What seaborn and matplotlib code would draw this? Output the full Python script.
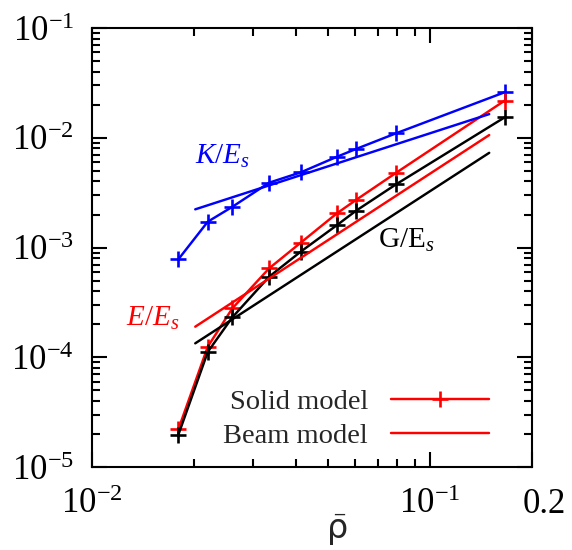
import numpy as np
import pandas as pd
import matplotlib
matplotlib.use("Agg")
import matplotlib.pyplot as plt
import seaborn as sns
from matplotlib.lines import Line2D
from matplotlib.transforms import ScaledTranslation
from matplotlib.ticker import (LogLocator, FixedLocator, FixedFormatter,
                               NullFormatter, FuncFormatter)

sns.set_theme(style="ticks")
plt.rcParams["font.family"] = ["Liberation Serif", "DejaVu Sans"]
plt.rcParams["mathtext.fontset"] = "custom"
plt.rcParams["mathtext.rm"] = "Liberation Serif"
plt.rcParams["mathtext.it"] = "Liberation Serif:italic"
plt.rcParams["mathtext.sf"] = "DejaVu Sans"

# relative density of the solid (finite element) models
rho_solid = [0.018, 0.022, 0.026, 0.0334, 0.0414, 0.053, 0.0603, 0.0793, 0.166]
K_solid = [7.8e-4, 1.72e-3, 2.35e-3, 3.9e-3, 4.84e-3, 6.72e-3, 7.9e-3, 1.1e-2, 2.6e-2]
E_solid = [2.2e-5, 1.25e-4, 2.79e-4, 6.46e-4, 1.106e-3, 2.05e-3, 2.71e-3, 4.8e-3, 2.18e-2]
G_solid = [1.96e-5, 1.12e-4, 2.31e-4, 5.42e-4, 9.16e-4, 1.6e-3, 2.16e-3, 3.77e-3, 1.535e-2]

# beam model predictions (power laws, straight in log-log)
rho_beam = [0.0202, 0.1495]
K_beam = [2.23e-3, 1.645e-2]
E_beam = [1.9e-4, 1.06e-2]
G_beam = [1.34e-4, 7.3e-3]

x_ticks = [0.01, 0.1, 0.2]
x_ticklabels = [r"$\mathregular{10^{-2}}$", r"$\mathregular{10^{-1}}$", "0.2"]

colors = {"K": "#0000ff", "E": "#ff0000", "G": "#000000"}

fig = plt.figure(figsize=(5.72, 5.50), dpi=100)
ax = fig.add_axes([0.1608, 0.1509, 0.7692, 0.798])

lw = 1.75
mk = dict(marker="+", markersize=11, markeredgewidth=1.9)
for key, ys in (("K", K_solid), ("E", E_solid), ("G", G_solid)):
    sns.lineplot(x=rho_solid, y=ys, ax=ax, color=colors[key], lw=lw,
                 markeredgecolor=colors[key], sort=False, legend=False, **mk)
for key, ys in (("K", K_beam), ("E", E_beam), ("G", G_beam)):
    sns.lineplot(x=rho_beam, y=ys, ax=ax, color=colors[key], lw=lw,
                 sort=False, legend=False)

ax.set_xscale("log")
ax.set_yscale("log")
ax.set_xlim(0.01, 0.2)
ax.set_ylim(1e-5, 1e-1)

ax.xaxis.set_major_locator(FixedLocator(x_ticks))
ax.xaxis.set_major_formatter(FixedFormatter(x_ticklabels))
ax.xaxis.set_minor_locator(FixedLocator([0.02, 0.03, 0.04, 0.05, 0.06, 0.07, 0.08, 0.09]))
ax.xaxis.set_minor_formatter(NullFormatter())
ax.yaxis.set_major_locator(LogLocator(base=10, numticks=10))
ax.yaxis.set_minor_locator(LogLocator(base=10, subs=np.arange(2, 10), numticks=20))
ax.yaxis.set_minor_formatter(NullFormatter())
ax.yaxis.set_major_formatter(FuncFormatter(
    lambda v, p: r"$\mathregular{10^{%d}}$" % int(round(np.log10(v)))))

ax.tick_params(which="both", direction="in", top=True, right=True, width=1.5, colors="black")
ax.tick_params(which="major", length=10.5, labelsize=25)
ax.tick_params(axis="x", which="major", pad=15)
ax.tick_params(axis="y", which="major", pad=13)
ax.tick_params(which="minor", length=5.5)
for sp in ax.spines.values():
    sp.set_linewidth(1.5)
    sp.set_color("black")

ax.set_xlabel("")
ax.set_ylabel("")
fig.text(337 / 572, 0.004, r"$\bar{\mathsf{\rho}}$", fontsize=24,
         ha="center", va="bottom")

lab_kw = dict(fontsize=21, va="baseline", ha="left")
ax.text(0.0202, 5.85e-3, r"$K/E_s$", color=colors["K"], **lab_kw)
ax.text(0.0126, 1.93e-4, r"$E/E_s$", color=colors["E"], **lab_kw)
ax.text(0.0702, 9.9e-4, r"G/E$_{\mathit{s}}$", color=colors["G"], **lab_kw)

handles = [Line2D([], [], color=colors["E"], lw=lw, **mk),
           Line2D([], [], color=colors["E"], lw=lw)]
ax.legend(handles, ["Solid model", "Beam model"], loc="lower right",
          bbox_to_anchor=(0.902, 0.04), markerfirst=False, frameon=False,
          fontsize=20.5, handlelength=3.45, handletextpad=0.8,
          labelspacing=0.3, borderpad=0, borderaxespad=0)

# the "0.2" label sits a little to the right of its tick
fig.canvas.draw()
for t in ax.xaxis.get_major_ticks():
    if t.label1.get_text() == "0.2":
        t.label1.set_transform(t.label1.get_transform() +
                               ScaledTranslation(0.12, 0, fig.dpi_scale_trans))

fig.savefig("out.png", dpi=100)
